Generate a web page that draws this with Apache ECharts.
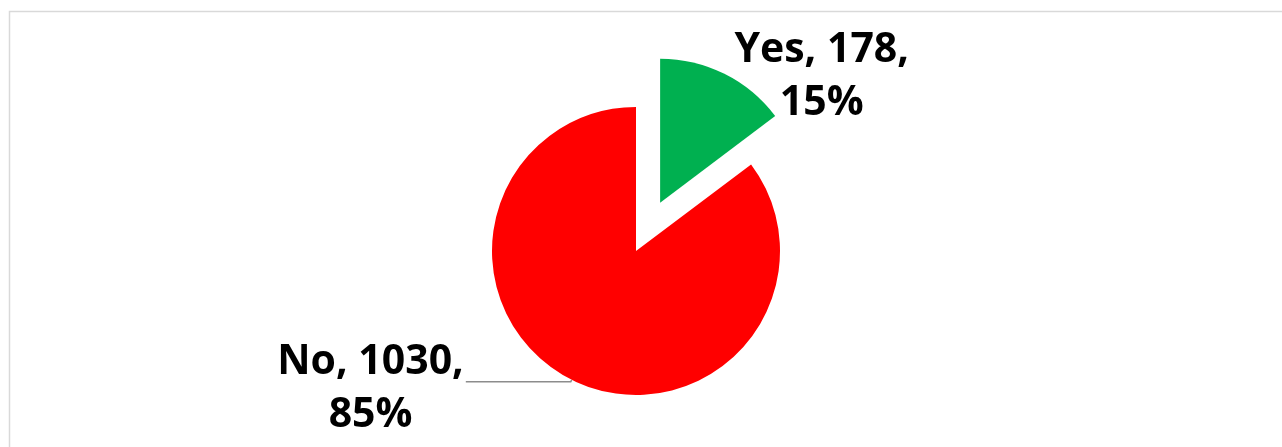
<!DOCTYPE html>
<html>
<head>
<meta charset="utf-8">
<script src="https://cdn.jsdelivr.net/npm/echarts@6/dist/echarts.min.js"></script>
<style>
  html, body { margin: 0; padding: 0; background: #ffffff; }
  #chart { width: 1282px; height: 447px; }
</style>
</head>
<body>
<div id="chart"></div>
<script>
// Survey answers and their counts
const categories = ['Yes', 'No'];
const counts = [178, 1030];
const sliceColors = ['#00b050', '#ff0000'];

const total = counts.reduce((a, b) => a + b, 0);

const chart = echarts.init(document.getElementById('chart'), null, { renderer: 'canvas' });

const pieData = categories.map((name, i) => ({
  name: name,
  value: counts[i],
  selected: name === 'Yes',
  itemStyle: { color: sliceColors[i] },
  labelLine: name === 'Yes'
    ? { show: true, length: 0, length2: 8, lineStyle: { opacity: 0 } }
    : { show: true, length: 2, length2: 105 }
}));

chart.setOption({
  backgroundColor: '#ffffff',
  animation: false,
  graphic: [{
    type: 'rect',
    left: 7,
    top: 9,
    shape: { width: 1300, height: 460 },
    style: { fill: 'none', stroke: '#d9d9d9', lineWidth: 1.5 },
    silent: true
  }],
  series: [{
    type: 'pie',
    center: [636, 251],
    radius: 144,
    startAngle: 90,
    clockwise: true,
    selectedMode: 'single',
    selectedOffset: 54,
    avoidLabelOverlap: false,
    itemStyle: { borderWidth: 0 },
    emphasis: { disabled: true },
    label: {
      show: true,
      position: 'outside',
      distanceToLabelLine: 2,
      fontFamily: '"Open Sans", "Liberation Sans", sans-serif',
      fontWeight: 'bold',
      fontSize: 41,
      lineHeight: 53,
      color: '#000000',
      formatter: p => `${p.name}, ${p.value},\n${Math.round(p.value / total * 100)}%`
    },
    labelLine: {
      lineStyle: { color: '#8c8c8c', width: 1.5 },
      smooth: false
    },
    // centre both lines of each label on the block the pie placed
    labelLayout: function (params) {
      const half = params.labelRect.width / 2;
      const onLeft = params.align === 'right';
      return {
        dx: onLeft ? -half : half,
        dy: onLeft ? 7 : 3,
        align: 'center',
        labelLinePoints: params.labelLinePoints
      };
    },
    data: pieData
  }]
});
</script>
</body>
</html>
